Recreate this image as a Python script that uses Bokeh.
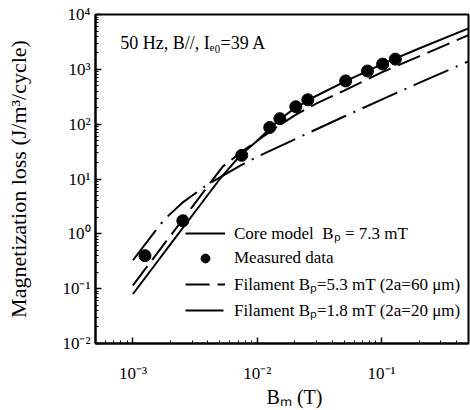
from bokeh.plotting import figure
from bokeh.models import Range1d, Legend, LegendItem, Label
from bokeh.embed import file_html
from bokeh.resources import INLINE

FONT = "Liberation Serif"

# Core model, Bp = 7.3 mT (solid)
core_b = [1e-3, 1.5e-3, 2e-3, 3e-3, 5e-3, 7.3e-3, 1e-2, 1.5e-2, 2e-2, 3e-2, 5e-2, 1e-1, 2e-1, 5e-1]
core_q = [0.08, 0.27, 0.64, 2.16, 10.0, 27.0, 50.0, 120.0, 195.0, 330.0, 590.0, 1230.0, 2400.0, 5600.0]

# Filament Bp = 5.3 mT (dashed)
fil53_b = [1e-3, 2e-3, 3e-3, 4e-3, 5.3e-3, 7.3e-3, 1e-2, 1.5e-2, 2e-2, 3e-2, 5e-2, 1e-1, 2e-1, 5e-1]
fil53_q = [0.115, 0.92, 3.1, 7.4, 17.0, 30.0, 50.0, 95.0, 145.0, 240.0, 410.0, 880.0, 1720.0, 4200.0]

# Filament Bp = 1.8 mT (dash-dot)
fil18_b = [1e-3, 1.5e-3, 1.8e-3, 2.5e-3, 4e-3, 7.3e-3, 1e-2, 2e-2, 5e-2, 1e-1, 2e-1, 5e-1]
fil18_q = [0.33, 1.1, 1.85, 3.7, 8.0, 17.5, 25.5, 53.0, 138.0, 280.0, 565.0, 1400.0]

# Measured data
meas_b = [1.25e-3, 2.52e-3, 7.5e-3, 1.26e-2, 1.52e-2, 2.04e-2, 2.55e-2, 5.14e-2, 7.7e-2, 1.02e-1, 1.29e-1]
meas_q = [0.40, 1.73, 27.0, 87.0, 126.0, 208.0, 279.0, 614.0, 931.0, 1247.0, 1535.0]

x_ticks = [1e-3, 1e-2, 1e-1]
x_tick_labels = ["10\u207b\u00b3", "10\u207b\u00b2", "10\u207b\u00b9"]
y_ticks = [1e-2, 1e-1, 1e0, 1e1, 1e2, 1e3, 1e4]
y_tick_labels = ["10\u207b\u00b2", "10\u207b\u00b9", "10\u2070", "10\u00b9", "10\u00b2", "10\u00b3", "10\u2074"]

p = figure(width=470, height=410, x_axis_type="log", y_axis_type="log",
           x_range=Range1d(5e-4, 0.5), y_range=Range1d(1e-2, 1e4),
           output_backend="svg", toolbar_location=None,
           min_border_left=95, min_border_right=2, min_border_top=14, min_border_bottom=63)
p.grid.visible = False
p.background_fill_color = "white"
p.outline_line_color = "black"
p.outline_line_width = 2
p.outline_line_alpha = 1

for ax, ticks, labels in ((p.xaxis[0], x_ticks, x_tick_labels), (p.yaxis[0], y_ticks, y_tick_labels)):
    ax.ticker.desired_num_ticks = 4
    ax.major_label_overrides = {t: l for t, l in zip(ticks, labels)}
    ax.axis_line_width = 2
    ax.major_tick_in = 6
    ax.major_tick_out = 0
    ax.minor_tick_in = 3
    ax.minor_tick_out = 0
    ax.major_tick_line_width = 1.5
    ax.major_label_text_font = FONT
    ax.major_label_text_font_size = "17px"
    ax.major_label_text_color = "black"
    ax.axis_label_text_font = FONT
    ax.axis_label_text_font_style = "normal"
    ax.axis_label_text_color = "black"

p.xaxis.major_label_standoff = 20
p.xaxis.axis_label = "\u00a0\u00a0\u00a0\u00a0\u00a0B\u2098 (T)"
p.xaxis.axis_label_text_font_size = "20px"
p.xaxis.axis_label_standoff = 0
p.yaxis.major_label_standoff = 5
p.yaxis.axis_label = "Magnetization loss (J/m\u00b3/cycle)"
p.yaxis.axis_label_text_font_size = "22px"
p.yaxis.axis_label_standoff = 28

r_core = p.line(core_b, core_q, line_color="black", line_width=2)
r_meas = p.scatter(meas_b, meas_q, size=12, marker="circle", fill_color="black", line_color="black")
r_53 = p.line(fil53_b, fil53_q, line_color="black", line_width=2, line_dash="24 8")
r_18 = p.line(fil18_b, fil18_q, line_color="black", line_width=2, line_dash="38 8 2 8")

legend = Legend(items=[
    LegendItem(label="Core model  B\u209a = 7.3 mT", renderers=[r_core]),
    LegendItem(label="Measured data", renderers=[r_meas]),
    LegendItem(label="Filament B\u209a=5.3 mT (2a=60 \u03bcm)", renderers=[r_53]),
    LegendItem(label="Filament B\u209a=1.8 mT (2a=20 \u03bcm)", renderers=[r_18]),
], location=(90, 22))
legend.label_text_font = FONT
legend.label_text_font_size = "17px"
legend.label_text_color = "black"
legend.glyph_width = 40
legend.glyph_height = 22
legend.label_height = 22
legend.spacing = 3
legend.padding = 0
legend.margin = 0
legend.label_standoff = 9
legend.border_line_color = None
legend.background_fill_alpha = 0
p.add_layout(legend)

note = Label(x=7.9e-4, y=3000, text="50 Hz, B//, I\u2091\u2080=39 A", text_font=FONT,
             text_font_size="18px", text_baseline="middle", text_color="black")
p.add_layout(note)

open("out.html", "w").write(file_html(p, INLINE))
